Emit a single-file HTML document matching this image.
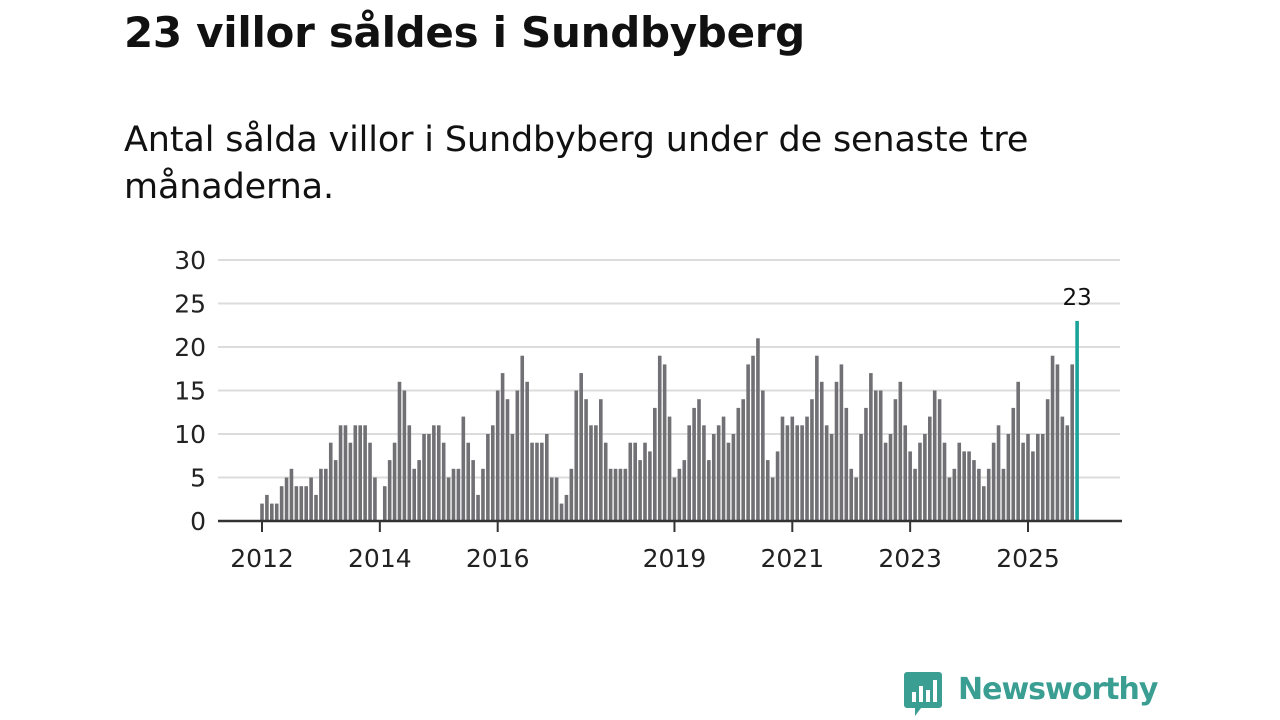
<!DOCTYPE html>
<html><head><meta charset="utf-8"><style>
body{margin:0;width:1280px;height:720px;background:#fff;font-family:"Liberation Sans","DejaVu Sans",sans-serif;overflow:hidden;position:relative}
#title{position:absolute;left:124px;top:8px;font-size:42px;font-weight:bold;color:#111;margin:0;font-family:"DejaVu Sans","Liberation Sans",sans-serif;letter-spacing:-0.3px}
#sub{position:absolute;left:124px;top:117px;font-size:35px;line-height:47px;color:#111;margin:0;width:1000px;font-family:"DejaVu Sans","Liberation Sans",sans-serif;letter-spacing:-0.15px}
svg{position:absolute;left:0;top:0}
</style></head><body>
<h1 id="title">23 villor såldes i Sundbyberg</h1>
<p id="sub">Antal sålda villor i Sundbyberg under de senaste tre<br>månaderna.</p>
<svg id="chart" width="1280" height="720"></svg>
<div style="position:absolute;left:903px;top:670px;height:48px">
<svg width="40" height="50" style="position:absolute;left:0;top:0"><path d="M4 2h32a3 3 0 0 1 3 3v30a3 3 0 0 1-3 3H18l-6 8v-8H4a3 3 0 0 1-3-3V5a3 3 0 0 1 3-3z" fill="#3a9e93"/><rect x="9" y="22" width="4" height="10" fill="#fff"/><rect x="16" y="16" width="4" height="16" fill="#fff"/><rect x="23" y="20" width="4" height="12" fill="#fff"/><rect x="30" y="10" width="4" height="22" fill="#fff"/></svg>
<span style="position:absolute;left:55px;top:2px;font-size:30px;font-weight:bold;color:#3a9e93;font-family:'DejaVu Sans','Liberation Sans',sans-serif;letter-spacing:-1px;white-space:nowrap">Newsworthy</span>
</div>
<script>
const values = [2,3,2,2,4,5,6,4,4,4,5,3,6,6,9,7,11,11,9,11,11,11,9,5,
0,4,7,9,16,15,11,6,7,10,10,11,
11,9,5,6,6,12,9,7,3,6,10,11,
15,17,14,10,15,19,16,9,9,9,10,5,
5,2,3,6,15,17,14,11,11,14,9,6,
6,6,6,9,9,7,9,8,13,19,18,12,
5,6,7,11,13,14,11,7,10,11,12,9,
10,13,14,18,19,21,15,7,5,8,12,11,
12,11,11,12,14,19,16,11,10,16,18,13,
6,5,10,13,17,15,15,9,10,14,16,11,
8,6,9,10,12,15,14,9,5,6,9,8,
8,7,6,4,6,9,11,6,10,13,16,9,
10,8,10,10,14,19,18,12,11,18,23];
const startYear = 2012;
const yTicks = [0,5,10,15,20,25,30];
const xTickYears = [2012,2014,2016,2019,2021,2023,2025];
const svg = document.getElementById('chart');
const NS='http://www.w3.org/2000/svg';
const y0=521, yPerUnit=(521-260)/30;
const x0=262, xPerMonth=(1028-262)/(13*12);
const yScale=v=>y0-v*yPerUnit;
const xScale=i=>x0+i*xPerMonth;
function mk(t,a){const e=document.createElementNS(NS,t);for(const k in a)e.setAttribute(k,a[k]);svg.appendChild(e);return e;}
yTicks.forEach(t=>{
  const g=mk('line',{x1:218,x2:1120,y1:yScale(t),y2:yScale(t),stroke:'#dcdcdc','stroke-width':2});
  
  
  const l=mk('text',{x:206,y:yScale(t)+9,'text-anchor':'end','font-size':25,fill:'#222','font-family':'DejaVu Sans, Liberation Sans, sans-serif'});
  l.textContent=t;
  
  
});
values.forEach((v,i)=>{
  const last=i===values.length-1;
  const r=mk('rect',{x:xScale(i)-1.8,y:yScale(v),width:3.6,height:v*yPerUnit,fill:last?'#1aa39a':'#717075'});
  
  
});
const ax=mk('line',{x1:218,x2:1122,y1:y0,y2:y0,stroke:'#333','stroke-width':2.5});


xTickYears.forEach(yr=>{
  const x=xScale((yr-startYear)*12);
  const t=mk('line',{x1:x,x2:x,y1:y0,y2:y0+11,stroke:'#333','stroke-width':2});
  
  
  const l=mk('text',{x:x,y:567,'text-anchor':'middle','font-size':25,fill:'#222','font-family':'DejaVu Sans, Liberation Sans, sans-serif'});
  l.textContent=yr;
  
  
});
const li=values.length-1;
const lab=mk('text',{x:xScale(li),y:yScale(values[li])-16,'text-anchor':'middle','font-size':23,fill:'#111','font-family':'DejaVu Sans, Liberation Sans, sans-serif'});
lab.textContent=values[li];


</script>
</body></html>
